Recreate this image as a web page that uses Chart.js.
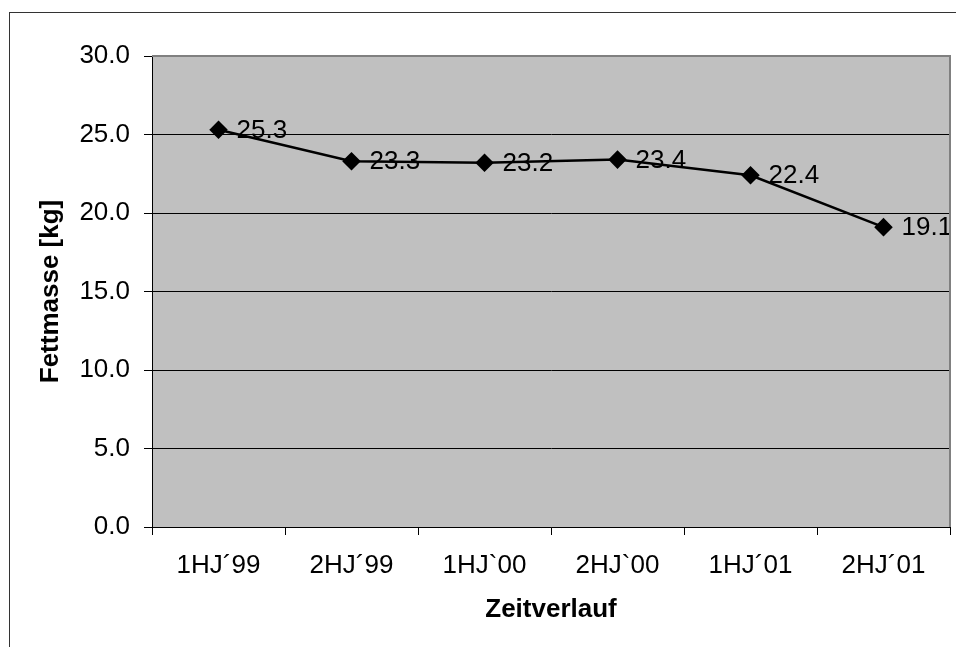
<!DOCTYPE html>
<html>
<head>
<meta charset="utf-8">
<script src="https://cdn.jsdelivr.net/npm/chart.js@4.4.0/dist/chart.umd.min.js"></script>
<style>
  body { margin: 0; background: #fff; }
  canvas { display: block; }
</style>
</head>
<body>
<canvas id="fettChart" width="956" height="647"></canvas>
<script>
// Halbjahre und Fettmasse in kg
const halbjahre = ['1HJ\u00B499', '2HJ\u00B499', '1HJ`00', '2HJ`00', '1HJ\u00B401', '2HJ\u00B401'];
const fettmasse = [25.3, 23.3, 23.2, 23.4, 22.4, 19.1];
const yTicks = [0, 5, 10, 15, 20, 25, 30];

const schrift = 'Liberation Sans, Arial, sans-serif';

// grauer Hintergrund der Zeichenfläche und Rahmen
const hintergrund = {
    id: 'hintergrund',
    beforeDraw(chart) {
        const ctx = chart.ctx;
        ctx.save();
        ctx.strokeStyle = '#333';
        ctx.lineWidth = 1;
        ctx.strokeRect(9.5, 12.5, 1000, 1000);
        const a = chart.chartArea;
        ctx.fillStyle = '#C0C0C0';
        ctx.fillRect(a.left, a.top, a.right - a.left, a.bottom - a.top);
        ctx.restore();
    },
    afterDraw(chart) {
        const ctx = chart.ctx;
        const a = chart.chartArea;
        ctx.save();
        ctx.strokeStyle = '#808080';
        ctx.lineWidth = 2;
        ctx.beginPath();
        ctx.moveTo(a.left, a.top);
        ctx.lineTo(a.right, a.top);
        ctx.lineTo(a.right, a.bottom);
        ctx.stroke();
        ctx.restore();
    }
};

// Werte rechts neben den Punkten
const werte = {
    id: 'werte',
    afterDatasetsDraw(chart) {
        const ctx = chart.ctx;
        const meta = chart.getDatasetMeta(0);
        ctx.save();
        ctx.font = '26px ' + schrift;
        ctx.fillStyle = '#000';
        ctx.textAlign = 'left';
        ctx.textBaseline = 'middle';
        meta.data.forEach((pt, i) => {
            ctx.fillText(fettmasse[i].toFixed(1), pt.x + 18, pt.y + 1);
        });
        ctx.restore();
    }
};

new Chart(document.getElementById('fettChart'), {
    type: 'line',
    data: {
        labels: halbjahre,
        datasets: [{
            data: fettmasse,
            borderColor: '#000',
            borderWidth: 2.5,
            backgroundColor: '#000',
            pointStyle: 'rectRot',
            pointRadius: 7.5,
            pointHoverRadius: 7.5,
            tension: 0
        }]
    },
    options: {
        responsive: false,
        animation: false,
        events: [],
        layout: {
            autoPadding: false,
            padding: { top: 56, right: 6, left: 0, bottom: 0 }
        },
        plugins: {
            legend: { display: false },
            tooltip: { enabled: false }
        },
        scales: {
            x: {
                offset: true,
                grid: {
                    offset: true,
                    drawOnChartArea: false,
                    drawTicks: true,
                    tickLength: 8,
                    color: '#000'
                },
                border: { color: '#000', width: 1 },
                ticks: {
                    color: '#000',
                    font: { family: schrift, size: 26 },
                    padding: 15,
                    maxRotation: 0
                },
                title: {
                    display: true,
                    text: 'Zeitverlauf',
                    color: '#000',
                    font: { family: schrift, size: 26, weight: 'bold' },
                    padding: { top: 0, bottom: 22 }
                },
                afterFit(scale) {
                    scale.height = 120;
                    scale.paddingLeft = 0;
                    scale.paddingRight = 0;
                }
            },
            y: {
                min: 0,
                max: 30,
                afterBuildTicks(scale) {
                    scale.ticks = yTicks.map(v => ({ value: v }));
                },
                grid: {
                    color: '#000',
                    drawTicks: true,
                    tickLength: 8
                },
                border: { color: '#000', width: 1 },
                ticks: {
                    color: '#000',
                    font: { family: schrift, size: 26 },
                    padding: 14,
                    callback: v => Number(v).toFixed(1)
                },
                title: {
                    display: true,
                    text: 'Fettmasse [kg]',
                    color: '#000',
                    font: { family: schrift, size: 26, weight: 'bold' },
                    padding: { top: 35, bottom: 0 }
                },
                afterFit(scale) {
                    scale.width = 152;
                    scale.paddingTop = 0;
                    scale.paddingBottom = 0;
                }
            }
        }
    },
    plugins: [hintergrund, werte]
});
</script>
</body>
</html>
